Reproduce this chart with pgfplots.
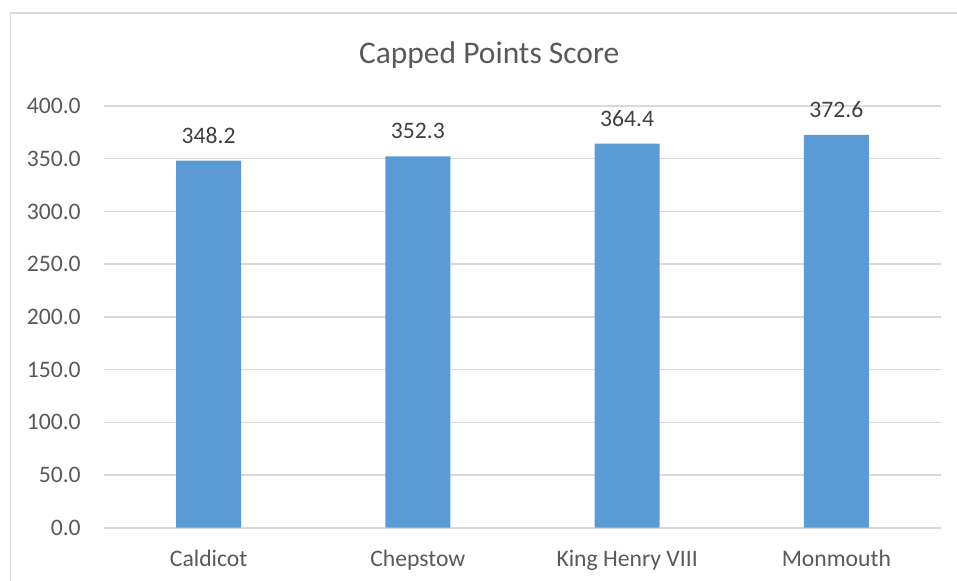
\documentclass[border=0pt]{standalone}
\usepackage{pgfplots}
\pgfplotsset{compat=1.18}
\usepackage{fontspec}
\setmainfont{Carlito}
\definecolor{barblue}{HTML}{5B9BD5}
\definecolor{gridgray}{HTML}{D9D9D9}
\definecolor{txtgray}{HTML}{595959}
\definecolor{lblgray}{HTML}{404040}
\begin{document}
\begin{tikzpicture}
\useasboundingbox (0,0) rectangle (717.75bp,-435.75bp);
\draw[gridgray, line width=1.2bp] (7.8bp,-440bp) -- (7.8bp,-9.9bp) -- (722bp,-9.9bp);
\node[anchor=base, text=txtgray, font=\fontsize{23.7}{28}\selectfont, inner sep=0pt] at (366.9bp,-47.3bp) {Capped Points Score};
\begin{axis}[
  at={(78bp,-395.8bp)}, anchor=south west,
  scale only axis,
  width=627.75bp, height=316.3bp,
  xmin=-0.5, xmax=3.5,
  ymin=0, ymax=400,
  ytick={0,50,...,400},
  xtick={0,1,2,3},
  xticklabels={Caldicot,Chepstow,King Henry VIII,Monmouth},
  axis lines*=left,
  y axis line style={draw=none},
  x axis line style={gridgray, line width=1.2bp, -},
  ymajorgrids,
  grid style={gridgray, line width=1bp},
  major tick length=0pt,
  tick style={draw=none},
  /pgf/number format/assume math mode=true,
  yticklabel style={/pgf/number format/.cd, fixed, fixed zerofill, precision=1, /tikz/.cd,
    anchor=east, inner sep=0pt, xshift=-17.25bp, text=txtgray, font=\fontsize{17.8}{21}\selectfont},
  xticklabel style={anchor=base, inner sep=0pt, yshift=-29.2bp, text=txtgray, font=\fontsize{17.8}{21}\selectfont},
  ybar, bar width=48.75bp,
  nodes near coords,
  nodes near coords style={/pgf/number format/.cd, fixed, fixed zerofill, precision=1, /tikz/.cd,
    anchor=center, inner sep=0pt, yshift=18.75bp, text=lblgray, font=\fontsize{17.8}{21}\selectfont},
  clip=false,
]
\addplot[fill=barblue, draw=none] coordinates {(0,348.2) (1,352.3) (2,364.4) (3,372.6)};
\end{axis}
\end{tikzpicture}
\end{document}
